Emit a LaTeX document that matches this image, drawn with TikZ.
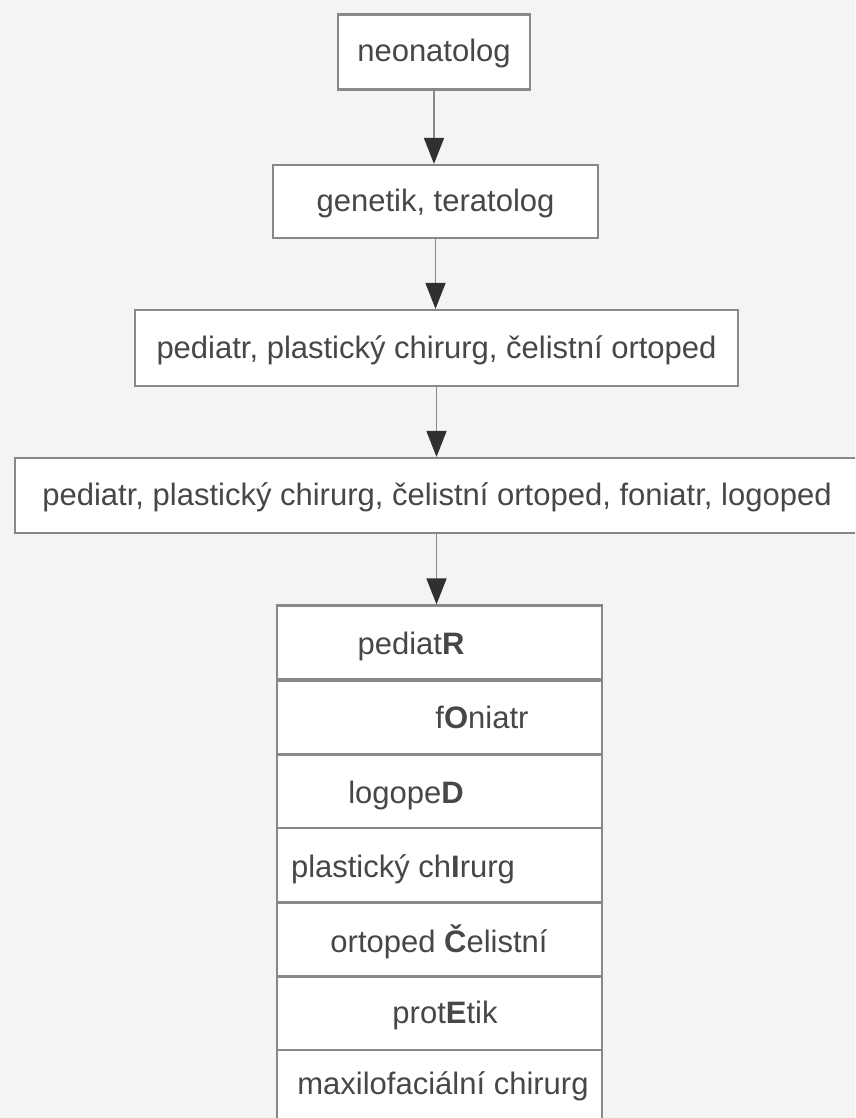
\documentclass[tikz,border=0pt]{standalone}
\usepackage{fontspec}
\setmainfont{Liberation Sans}
\usetikzlibrary{arrows.meta}
\definecolor{paper}{HTML}{F4F4F2}
\definecolor{frame}{HTML}{888888}
\definecolor{ink}{HTML}{474747}
\definecolor{tip}{HTML}{303030}
\begin{document}
\begin{tikzpicture}[x=1pt, y=-1pt,
  box/.style={draw=frame, line width=2.2pt, fill=white, inner sep=0pt,
    font=\fontsize{31}{36}\selectfont, text=ink, text height=25pt, text depth=5pt},
  cell/.style={draw=frame, line width=2.2pt, fill=white, minimum width=325pt, minimum height=74pt},
  word/.style={inner sep=0pt, font=\fontsize{31}{36}\selectfont, text=ink, text height=25pt, text depth=5pt},
  arr/.style={draw=frame, line width=1.6pt, -{Triangle[width=20pt,length=26pt,color=tip]}}]
% Page
\useasboundingbox (0,0) rectangle (855,1118);
\clip (0,0) rectangle (855,1118);
\fill[paper] (0,0) rectangle (855,1118);

% Chain of boxes
\node[box, minimum width=192pt, minimum height=75pt] (neo) at (434,52) {neonatolog};
\node[box, minimum width=325pt, minimum height=73pt] (gen) at (435.5,201.5) {genetik, teratolog};
\node[box, minimum width=603pt, minimum height=76pt] (trio) at (436.5,348) {pediatr, plastický chirurg, čelistní ortoped};
\node[box, minimum width=855pt, minimum height=75pt] (team) at (442.5,495.5) {\hspace*{-11pt}pediatr, plastický chirurg, čelistní ortoped, foniatr, logoped};

% Table
\node[cell] (r1) at (439.5,642.5) {};
\node[cell] (r2) at (439.5,717.5) {};
\node[cell] (r3) at (439.5,791.5) {};
\node[cell] (r4) at (439.5,865) {};
\node[cell] (r5) at (439.5,939.5) {};
\node[cell] (r6) at (439.5,1013.5) {};
\node[cell] (r7) at (439.5,1087) {};

\node[word] (w1) at (411,644) {pediat\textbf{R}};
\node[word] (w2) at (482,718) {f\textbf{O}niatr};
\node[word] (w3) at (406,793) {logope\textbf{D}};
\node[word] (w4) at (403,867) {plastický ch\textbf{I}rurg};
\node[word] (w5) at (439,942) {ortoped \textbf{Č}elistní};
\node[word] (w6) at (445,1013) {prot\textbf{E}tik};
\node[word] (w7) at (443,1084) {maxilofaciální chirurg};

% Arrows
\draw[arr] (neo.south) -- (neo.south |- gen.north);
\draw[arr] (gen.south) -- (gen.south |- trio.north);
\draw[arr] (trio.south) -- (trio.south |- team.north);
\draw[arr] (trio.south |- team.south) -- (trio.south |- r1.north);

\end{tikzpicture}
\end{document}
